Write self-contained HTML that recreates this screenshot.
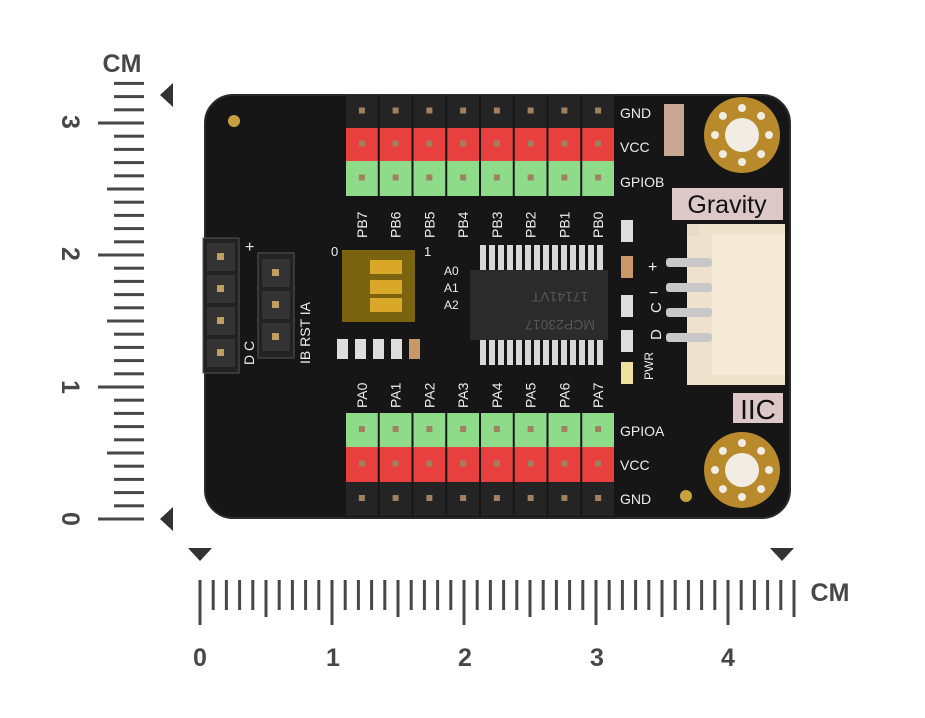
<!DOCTYPE html>
<html><head><meta charset="utf-8"><style>
html,body{margin:0;padding:0;background:#fff;}
svg{display:block;}
text{font-family:"Liberation Sans",sans-serif;}
</style></head><body>
<svg id="s" width="925" height="718" viewBox="0 0 925 718" xmlns="http://www.w3.org/2000/svg">
<rect x="205" y="95" width="585" height="423" rx="28" fill="#161616"/>
<rect x="205" y="95" width="585" height="423" rx="28" fill="none" stroke="#2a2a2a" stroke-width="2"/>
<rect x="203" y="238" width="36" height="135" fill="#222" stroke="#555"/>
<rect x="258" y="253" width="36" height="105" fill="#222" stroke="#555"/>
<rect x="687" y="224" width="98" height="161" fill="#efe2cc"/>
<rect x="712" y="234" width="73" height="141" fill="#f5ead8"/>
<rect x="687" y="224" width="12" height="12" fill="#e8dcc4"/>
<g id="g"></g>
<rect x="672" y="188" width="111" height="32" fill="#dcc8c8"/>
<text x="727" y="213" font-size="25" text-anchor="middle" fill="#111">Gravity</text>
<rect x="733" y="393" width="50" height="30" fill="#dcc8c8"/>
<text x="758" y="419" font-size="28" text-anchor="middle" fill="#111" font-family="Liberation Serif">IIC</text>
<g id="holes"></g>
<circle cx="234" cy="121" r="6" fill="#c9a040"/>
<circle cx="686" cy="496" r="6" fill="#c9a040"/>
<rect x="470" y="270" width="138" height="70" fill="#2b2b2b"/>
<text x="560" y="300" font-size="14" fill="#555" text-anchor="middle" transform="rotate(180 560 296)">17141VT</text>
<text x="560" y="328" font-size="14" fill="#555" text-anchor="middle" transform="rotate(180 560 324)">MCP23017</text>
<rect x="342" y="250" width="73" height="72" fill="#7a6410"/>
<rect x="370" y="260" width="32" height="14" fill="#d9a828"/>
<rect x="370" y="280" width="32" height="14" fill="#d9a828"/>
<rect x="370" y="298" width="32" height="14" fill="#d9a828"/>
<text x="331" y="256" font-size="13" fill="#eee">0</text>
<text x="424" y="256" font-size="13" fill="#eee">1</text>
<text x="444" y="275" font-size="12" fill="#eee">A0</text>
<text x="444" y="292" font-size="12" fill="#eee">A1</text>
<text x="444" y="309" font-size="12" fill="#eee">A2</text>
<text x="245" y="252" font-size="16" fill="#eee">+</text>
<text x="310" y="333" font-size="14" fill="#eee" transform="rotate(-90 310 333)" text-anchor="middle">IB RST IA</text>
<text x="254" y="365" font-size="14" fill="#eee" transform="rotate(-90 254 365)">D   C</text>
<g font-size="14" fill="#eee">
<text x="620" y="118">GND</text><text x="620" y="152">VCC</text><text x="620" y="187">GPIOB</text>
<text x="620" y="436">GPIOA</text><text x="620" y="470">VCC</text><text x="620" y="504">GND</text>
<text x="648" y="272" font-size="16">+</text><text x="649" y="298" font-size="16">−</text>
<text x="661" y="323" transform="rotate(-90 656 318)" font-size="15">C</text>
<text x="661" y="350" transform="rotate(-90 656 345)" font-size="15">D</text>
<text x="653" y="380" transform="rotate(-90 653 380)" font-size="12">PWR</text>
</g>
<g id="r" fill="#474747"></g>
<g font-size="25" font-weight="bold" fill="#474747" text-anchor="middle">
<text x="200" y="666">0</text><text x="333" y="666">1</text><text x="465" y="666">2</text><text x="597" y="666">3</text><text x="728" y="666">4</text>
<text x="830" y="601">CM</text><text x="122" y="72">CM</text>
<text x="70" y="130" transform="rotate(90 70 122)">3</text>
<text x="70" y="262" transform="rotate(90 70 254)">2</text>
<text x="70" y="395" transform="rotate(90 70 387)">1</text>
<text x="70" y="527" transform="rotate(90 70 519)">0</text>
</g>
<polygon points="173,83 173,107 160,95" fill="#333"/>
<polygon points="173,507 173,531 160,519" fill="#333"/>
<polygon points="188,548 212,548 200,561" fill="#333"/>
<polygon points="770,548 794,548 782,561" fill="#333"/>
</svg>
<script>
var NS="http://www.w3.org/2000/svg",g=document.getElementById('g'),r=document.getElementById('r'),h=document.getElementById('holes');
function el(p,t,a){var e=document.createElementNS(NS,t);for(var k in a)e.setAttribute(k,a[k]);p.appendChild(e);return e;}
var cols=8,x0=345,w=270/8;
function row(y,hh,c){for(var i=0;i<cols;i++){var x=x0+i*w;el(g,'rect',{x:x+1,y:y,width:w-2,height:hh,fill:c});el(g,'rect',{x:x+w/2-3,y:y+hh/2-4,width:6,height:6,fill:'#a08060'});}}
row(95,33,'#242424');row(128,33,'#e8403e');row(161,35,'#8edc8a');
row(413,34,'#8edc8a');row(447,35,'#e8403e');row(482,34,'#242424');
for(var i=0;i<8;i++){var cx=x0+i*w+w/2+5;
var t=el(g,'text',{x:cx,y:238,'font-size':14,fill:'#eee',transform:'rotate(-90 '+cx+' 238)'});t.textContent='PB'+(7-i);
t=el(g,'text',{x:cx,y:408,'font-size':14,fill:'#eee',transform:'rotate(-90 '+cx+' 408)'});t.textContent='PA'+i;}
for(var i=0;i<14;i++){var px=480+i*9;el(g,'rect',{x:px,y:245,width:6,height:25,fill:'#d8d8d8'});el(g,'rect',{x:px,y:340,width:6,height:25,fill:'#d8d8d8'});}
for(var i=0;i<4;i++){el(g,'rect',{x:666,y:258+i*25,width:46,height:9,rx:3,fill:'#c8c8c8'});el(g,'rect',{x:207,y:243+i*32,width:28,height:28,fill:'#333'});el(g,'rect',{x:217,y:253+i*32,width:7,height:7,fill:'#c0a060'});}
for(var i=0;i<3;i++){el(g,'rect',{x:262,y:259+i*32,width:28,height:28,fill:'#333'});el(g,'rect',{x:272,y:269+i*32,width:7,height:7,fill:'#c0a060'});}
for(var i=0;i<5;i++){el(g,'rect',{x:337+i*18,y:339,width:11,height:20,fill:i==4?'#c89868':'#ddd'});}
[[621,220,'#ddd'],[621,256,'#c89868'],[621,295,'#ddd'],[621,330,'#ddd'],[621,362,'#f0e0a0']].forEach(function(a){el(g,'rect',{x:a[0],y:a[1],width:12,height:22,fill:a[2]});});
el(g,'rect',{x:664,y:104,width:20,height:52,fill:'#c8a890'});
[[742,135],[742,470]].forEach(function(c){el(h,'circle',{cx:c[0],cy:c[1],r:38,fill:'#b88a2c'});el(h,'circle',{cx:c[0],cy:c[1],r:17,fill:'#f1ece4'});
for(var k=0;k<8;k++){var a=k*Math.PI/4;el(h,'circle',{cx:c[0]+27*Math.cos(a),cy:c[1]+27*Math.sin(a),r:4,fill:'#f1ece4'});}});
for(var k=0;k<=45;k++){var x=200+k*13.2,len=k%10==0?45:(k%5==0?37:30);el(r,'rect',{x:x-1.5,y:580,width:3,height:len});}
for(var k=0;k<=33;k++){var y=519-k*13.2,len=k%10==0?46:(k%5==0?37:30);el(r,'rect',{x:144-len,y:y-1.5,width:len,height:3});}
</script>
</body></html>
